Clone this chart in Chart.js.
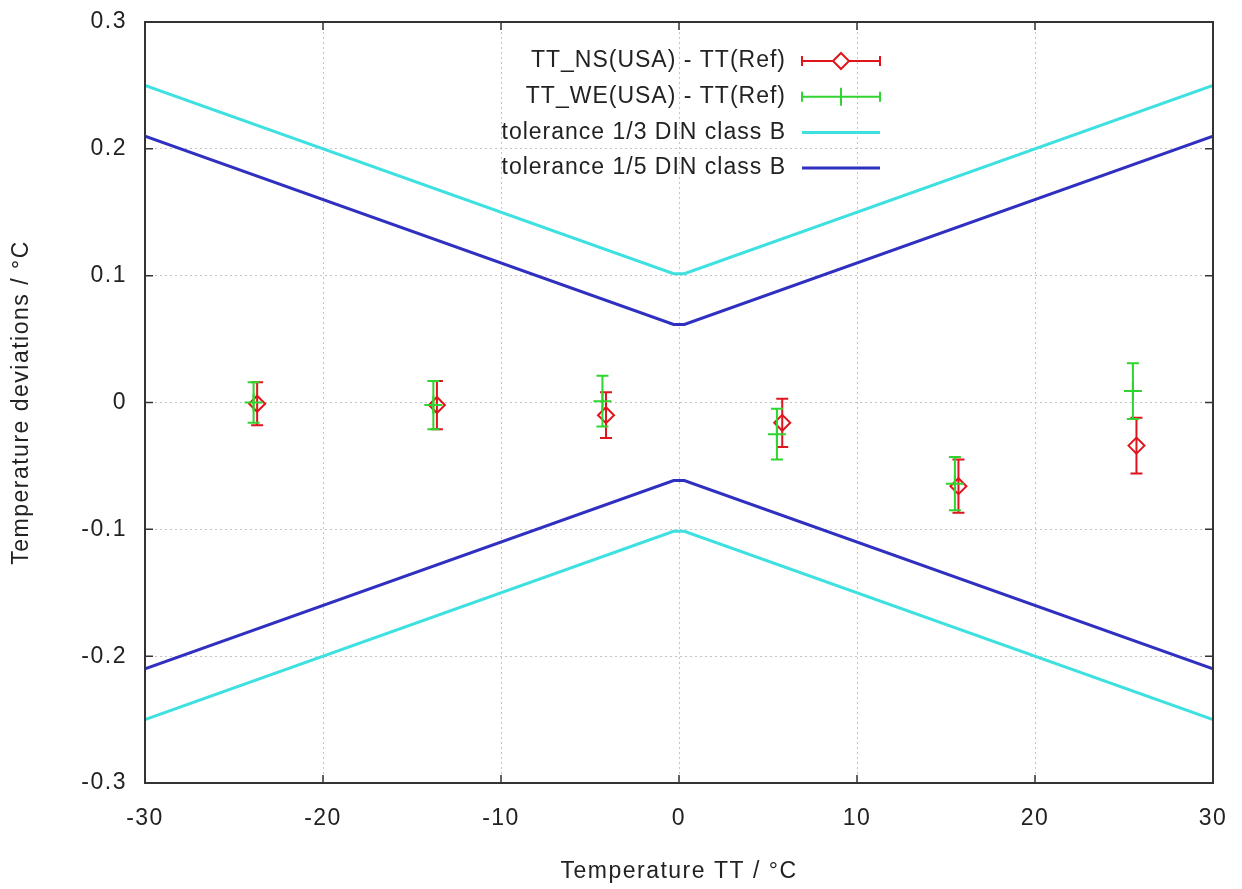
<!DOCTYPE html>
<html>
<head>
<meta charset="utf-8">
<script src="https://cdn.jsdelivr.net/npm/chart.js"></script>
<style>
  html, body { margin: 0; padding: 0; background: #fff; }
  #wrap { width: 1242px; height: 889px; }
</style>
</head>
<body>
<div id="wrap"><canvas id="myChart" width="1242" height="889"></canvas></div>
<script>
// measured deviations, NS sensor
const nsTemp = [-23.7, -13.6, -4.1, 5.8, 15.7, 25.7];
const nsDev = [-0.001, -0.002, -0.010, -0.016, -0.066, -0.034];
const nsErr = [0.017, 0.019, 0.018, 0.019, 0.021, 0.022];

// measured deviations, WE sensor
const weTemp = [-23.9, -13.8, -4.3, 5.5, 15.5, 25.5];
const weDev = [0.000, -0.002, 0.001, -0.025, -0.064, 0.009];
const weErr = [0.016, 0.019, 0.020, 0.020, 0.021, 0.022];

// tolerance bands
const tolTemp = [-30, -0.3, 0.3, 30];
const tol3Upper = [0.25, 0.1015, 0.1015, 0.25];
const tol3Lower = [-0.25, -0.1015, -0.1015, -0.25];
const tol5Upper = [0.21, 0.0615, 0.0615, 0.21];
const tol5Lower = [-0.21, -0.0615, -0.0615, -0.21];

const xTicks = [-30, -20, -10, 0, 10, 20, 30];
const yTicks = [-0.3, -0.2, -0.1, 0, 0.1, 0.2, 0.3];

const RED = '#e0141c';
const GREEN = '#2fd42f';
const CYAN = '#3ee0e0';
const BLUE = '#3030c0';
const FONT = '"Liberation Sans", Arial, sans-serif';
const FSIZE = 23;
const SPACING = '1.5px';

function pts(xs, ys) {
    return xs.map((x, i) => ({ x: x, y: ys[i] }));
}

// wide-ish lettering like the gnuplot terminal font
const spacing = {
    id: 'spacing',
    beforeLayout(chart) { chart.ctx.letterSpacing = SPACING; },
    beforeDraw(chart) { chart.ctx.letterSpacing = SPACING; }
};

// error bars + frame + inward ticks + gnuplot-like key
const gnuplotStyle = {
    id: 'gnuplotStyle',
    afterDatasetDraw(chart, args) {
        const ds = chart.data.datasets[args.index];
        if (!ds.errors) return;
        const ctx = chart.ctx;
        const xs = chart.scales.x, ys = chart.scales.y;
        ctx.save();
        ctx.strokeStyle = ds.borderColor;
        ctx.lineWidth = 2;
        ds.data.forEach((p, i) => {
            const px = xs.getPixelForValue(p.x);
            const top = ys.getPixelForValue(p.y + ds.errors[i]);
            const bot = ys.getPixelForValue(p.y - ds.errors[i]);
            ctx.beginPath();
            ctx.moveTo(px, top); ctx.lineTo(px, bot);
            ctx.moveTo(px - 6, top); ctx.lineTo(px + 6, top);
            ctx.moveTo(px - 6, bot); ctx.lineTo(px + 6, bot);
            ctx.stroke();
        });
        ctx.restore();
    },
    afterDraw(chart) {
        const ctx = chart.ctx;
        const a = chart.chartArea;
        const xs = chart.scales.x, ys = chart.scales.y;
        ctx.save();
        ctx.strokeStyle = '#333';
        ctx.lineWidth = 1.5;
        // inward ticks on all four sides
        ctx.beginPath();
        xTicks.forEach(v => {
            const px = xs.getPixelForValue(v);
            ctx.moveTo(px, a.bottom); ctx.lineTo(px, a.bottom - 8);
            ctx.moveTo(px, a.top); ctx.lineTo(px, a.top + 8);
        });
        yTicks.forEach(v => {
            const py = ys.getPixelForValue(v);
            ctx.moveTo(a.left, py); ctx.lineTo(a.left + 8, py);
            ctx.moveTo(a.right, py); ctx.lineTo(a.right - 8, py);
        });
        ctx.stroke();
        ctx.lineWidth = 2;
        ctx.strokeRect(a.left, a.top, a.right - a.left, a.bottom - a.top);

        // key
        const keys = chart.data.datasets.filter(d => d.keyRow !== undefined);
        ctx.font = FSIZE + 'px ' + FONT;
        ctx.letterSpacing = '1px';
        ctx.textAlign = 'right';
        ctx.textBaseline = 'middle';
        keys.forEach(d => {
            const y = 61 + d.keyRow * 35.7;
            const x0 = 802, x1 = 880, xm = 841;
            ctx.fillStyle = '#222';
            ctx.fillText(d.label, 786, y);
            ctx.strokeStyle = d.borderColor;
            ctx.lineWidth = d.errors ? 2 : 3;
            ctx.beginPath();
            ctx.moveTo(x0, y); ctx.lineTo(x1, y);
            if (d.errors) {
                ctx.moveTo(x0, y - 5); ctx.lineTo(x0, y + 5);
                ctx.moveTo(x1, y - 5); ctx.lineTo(x1, y + 5);
            }
            ctx.stroke();
            if (d.pointStyle === 'rectRot') {
                ctx.fillStyle = '#fff';
                ctx.beginPath();
                ctx.moveTo(xm, y - 8); ctx.lineTo(xm + 8, y);
                ctx.lineTo(xm, y + 8); ctx.lineTo(xm - 8, y);
                ctx.closePath();
                ctx.fill(); ctx.stroke();
            } else if (d.pointStyle === 'cross') {
                ctx.beginPath();
                ctx.moveTo(xm, y - 9); ctx.lineTo(xm, y + 9);
                ctx.stroke();
            }
        });
        ctx.restore();
    }
};

const tickFont = { family: FONT, size: FSIZE };

new Chart(document.getElementById('myChart'), {
    type: 'scatter',
    data: {
        datasets: [
            {
                label: 'TT_WE(USA) - TT(Ref)',
                data: pts(weTemp, weDev),
                errors: weErr,
                keyRow: 1,
                borderColor: GREEN,
                backgroundColor: GREEN,
                pointStyle: 'cross',
                pointRadius: 9,
                pointBorderWidth: 2,
                showLine: false,
                order: 1
            },
            {
                label: 'TT_NS(USA) - TT(Ref)',
                data: pts(nsTemp, nsDev),
                errors: nsErr,
                keyRow: 0,
                borderColor: RED,
                backgroundColor: 'rgba(255,255,255,0)',
                pointStyle: 'rectRot',
                pointRadius: 8,
                pointBorderWidth: 2,
                showLine: false,
                order: 2
            },
            {
                label: 'tolerance 1/3 DIN class B',
                data: pts(tolTemp, tol3Upper),
                keyRow: 2,
                borderColor: CYAN,
                borderWidth: 3,
                pointRadius: 0,
                showLine: true,
                order: 3
            },
            {
                label: 'tolerance 1/3 DIN class B (lower)',
                data: pts(tolTemp, tol3Lower),
                borderColor: CYAN,
                borderWidth: 3,
                pointRadius: 0,
                showLine: true,
                order: 3
            },
            {
                label: 'tolerance 1/5 DIN class B',
                data: pts(tolTemp, tol5Upper),
                keyRow: 3,
                borderColor: BLUE,
                borderWidth: 3,
                pointRadius: 0,
                showLine: true,
                order: 4
            },
            {
                label: 'tolerance 1/5 DIN class B (lower)',
                data: pts(tolTemp, tol5Lower),
                borderColor: BLUE,
                borderWidth: 3,
                pointRadius: 0,
                showLine: true,
                order: 4
            }
        ]
    },
    options: {
        responsive: false,
        animation: false,
        layout: { padding: { top: 22, right: 29, left: 0, bottom: 0 } },
        plugins: {
            legend: { display: false },
            tooltip: { enabled: false }
        },
        scales: {
            x: {
                type: 'linear',
                min: -30,
                max: 30,
                afterFit(scale) {
                    scale.height = 106;
                    scale.paddingLeft = 0;
                    scale.paddingRight = 0;
                },
                afterBuildTicks(scale) { scale.ticks = xTicks.map(v => ({ value: v })); },
                grid: { color: '#c4c4c4', lineWidth: 1, drawTicks: false },
                border: { display: false, dash: [2, 3] },
                ticks: {
                    padding: 22,
                    color: '#222',
                    font: tickFont,
                    callback: v => String(v)
                },
                title: {
                    display: true,
                    text: 'Temperature TT / °C',
                    color: '#222',
                    font: tickFont,
                    padding: { top: 0, bottom: 4 }
                }
            },
            y: {
                type: 'linear',
                min: -0.3,
                max: 0.3,
                afterFit(scale) {
                    scale.width = 145;
                    scale.paddingTop = 0;
                    scale.paddingBottom = 0;
                },
                afterBuildTicks(scale) { scale.ticks = yTicks.map(v => ({ value: v })); },
                grid: { color: '#c4c4c4', lineWidth: 1, drawTicks: false },
                border: { display: false, dash: [2, 3] },
                ticks: {
                    padding: 18,
                    color: '#222',
                    font: tickFont,
                    callback: v => String(Number(v.toFixed(1)))
                },
                title: {
                    display: true,
                    text: 'Temperature deviations / °C',
                    color: '#222',
                    font: tickFont,
                    padding: { top: 8, bottom: 0 }
                }
            }
        }
    },
    plugins: [spacing, gnuplotStyle]
});
</script>
</body>
</html>
